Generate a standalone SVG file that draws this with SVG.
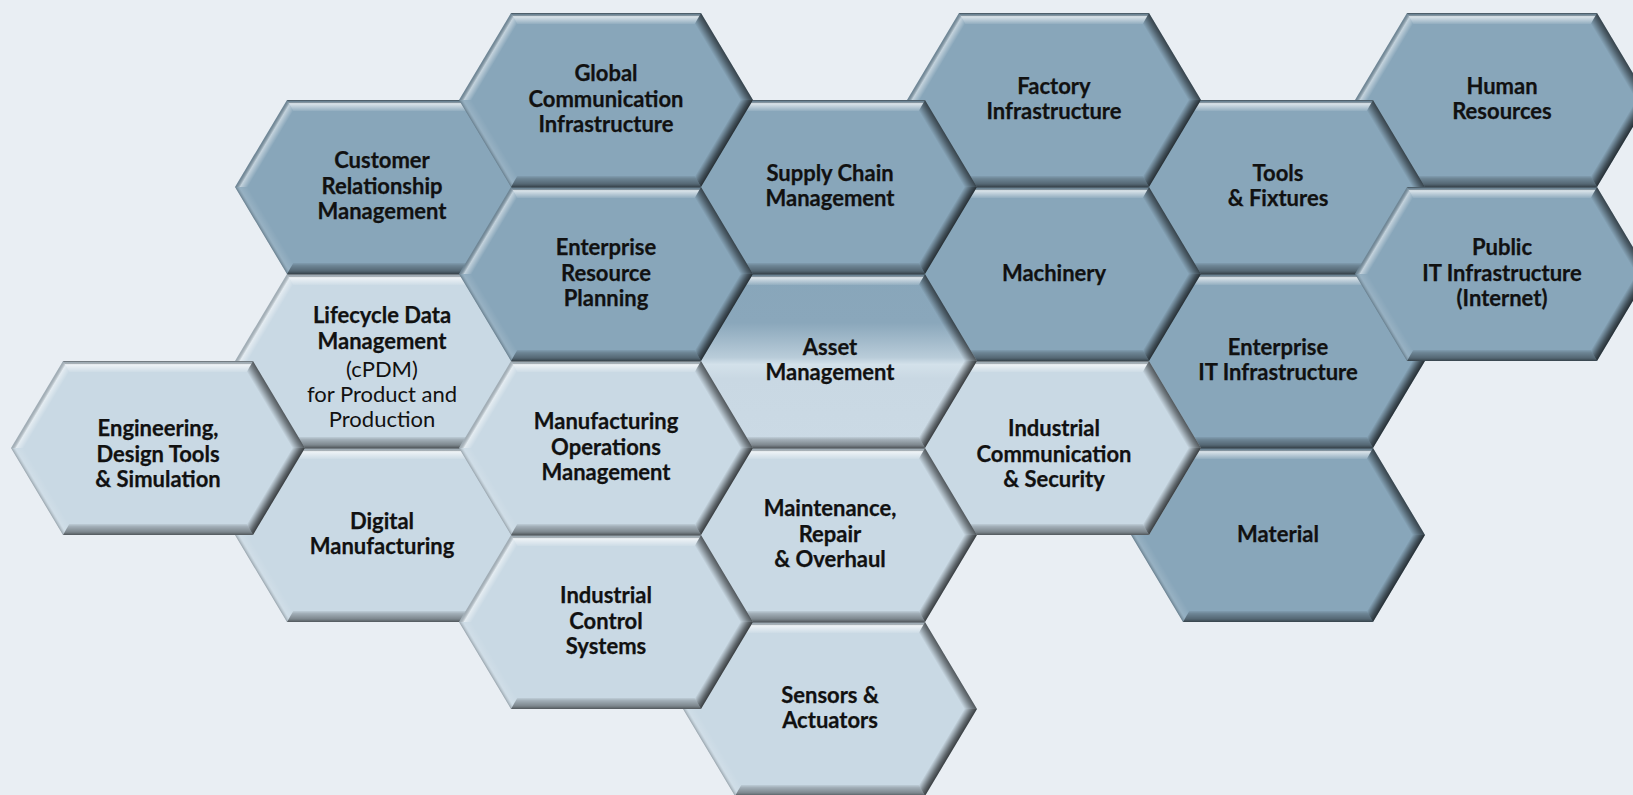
<svg xmlns="http://www.w3.org/2000/svg" xmlns:xlink="http://www.w3.org/1999/xlink" width="1633" height="795" viewBox="0 0 1633 795">
<style>
.t{font-family:Lato,"Liberation Sans",sans-serif;font-size:22px;font-weight:bold;fill:#111;text-anchor:middle;stroke:#111;stroke-width:0.25px}
.r{font-weight:normal;stroke:none}
</style>
<defs>
<linearGradient id="gTop" gradientUnits="userSpaceOnUse" x1="0" y1="-87" x2="0" y2="-75">
<stop offset="0" stop-color="#000" stop-opacity="0.55"/>
<stop offset="0.12" stop-color="#000" stop-opacity="0.2"/>
<stop offset="0.3" stop-color="#fff" stop-opacity="0.7"/>
<stop offset="0.55" stop-color="#fff" stop-opacity="0.45"/>
<stop offset="1" stop-color="#fff" stop-opacity="0"/>
</linearGradient>
<linearGradient id="gBot" gradientUnits="userSpaceOnUse" x1="0" y1="87" x2="0" y2="75">
<stop offset="0" stop-color="#000" stop-opacity="0.6"/>
<stop offset="0.25" stop-color="#000" stop-opacity="0.38"/>
<stop offset="0.7" stop-color="#000" stop-opacity="0.2"/>
<stop offset="1" stop-color="#000" stop-opacity="0"/>
</linearGradient>
<linearGradient id="gUR" gradientUnits="userSpaceOnUse" x1="121" y1="-43.5" x2="111.56" y2="-37.86">
<stop offset="0" stop-color="#000" stop-opacity="0.6"/>
<stop offset="0.35" stop-color="#000" stop-opacity="0.42"/>
<stop offset="1" stop-color="#000" stop-opacity="0"/>
</linearGradient>
<linearGradient id="gLR" gradientUnits="userSpaceOnUse" x1="121" y1="43.5" x2="111.56" y2="37.86">
<stop offset="0" stop-color="#000" stop-opacity="0.72"/>
<stop offset="0.35" stop-color="#000" stop-opacity="0.52"/>
<stop offset="1" stop-color="#000" stop-opacity="0"/>
</linearGradient>
<linearGradient id="gLL" gradientUnits="userSpaceOnUse" x1="-121" y1="43.5" x2="-111.56" y2="37.86">
<stop offset="0" stop-color="#000" stop-opacity="0.25"/>
<stop offset="0.35" stop-color="#fff" stop-opacity="0.12"/>
<stop offset="1" stop-color="#fff" stop-opacity="0"/>
</linearGradient>
<linearGradient id="gUL" gradientUnits="userSpaceOnUse" x1="-121" y1="-43.5" x2="-111.56" y2="-37.86">
<stop offset="0" stop-color="#000" stop-opacity="0.2"/>
<stop offset="0.4" stop-color="#fff" stop-opacity="0.5"/>
<stop offset="1" stop-color="#fff" stop-opacity="0"/>
</linearGradient>
<linearGradient id="assetFill" gradientUnits="userSpaceOnUse" x1="0" y1="-87" x2="0" y2="87">
<stop offset="0" stop-color="#88a6ba"/>
<stop offset="0.28" stop-color="#8aa7bb"/>
<stop offset="0.48" stop-color="#b9ccd9"/>
<stop offset="0.52" stop-color="#d3e1ea"/>
<stop offset="0.6" stop-color="#c9d8e3"/>
<stop offset="1" stop-color="#cbdae5"/>
</linearGradient>
<g id="bevel">
<polygon points="-95,-87 95,-87 88.76,-76 -88.76,-76" fill="url(#gTop)"/>
<polygon points="95,-87 147,0 134.19,0 88.76,-76" fill="url(#gUR)"/>
<polygon points="147,0 95,87 88.76,76 134.19,0" fill="url(#gLR)"/>
<polygon points="95,87 -95,87 -88.76,76 88.76,76" fill="url(#gBot)"/>
<polygon points="-95,87 -147,0 -134.19,0 -88.76,76" fill="url(#gLL)"/>
<polygon points="-147,0 -95,-87 -88.76,-76 -134.19,0" fill="url(#gUL)"/>
</g>
<g id="hexDark"><polygon points="-147,0 -95,-87 95,-87 147,0 95,87 -95,87" fill="#88a6ba"/><use href="#bevel"/></g>
<g id="hexLight"><polygon points="-147,0 -95,-87 95,-87 147,0 95,87 -95,87" fill="#c9d9e4"/><use href="#bevel"/></g>
<g id="hexAsset"><polygon points="-147,0 -95,-87 95,-87 147,0 95,87 -95,87" fill="url(#assetFill)"/><use href="#bevel"/></g>
</defs>
<rect width="1633" height="795" fill="#e9eef3"/>

<g id="node-crm" transform="translate(382,187)"><use href="#hexDark"/>
<text class="t"><tspan x="0" y="-19.3">Customer</tspan><tspan x="0" y="6.5">Relationship</tspan><tspan x="0" y="32.3">Management</tspan></text></g>
<g id="node-lifecycle" transform="translate(382,361)"><use href="#hexLight"/>
<text class="t"><tspan x="0" y="-38.4">Lifecycle Data</tspan><tspan x="0" y="-12.4">Management</tspan><tspan x="0" y="15.5" class="r">(cPDM)</tspan><tspan x="0" y="41" class="r">for Product and</tspan><tspan x="0" y="65.5" class="r">Production</tspan></text></g>
<g id="node-digital" transform="translate(382,535)"><use href="#hexLight"/>
<text class="t"><tspan x="0" y="-6.4">Digital</tspan><tspan x="0" y="19.4">Manufacturing</tspan></text></g>

<g id="node-hr" transform="translate(1502,100)"><use href="#hexDark"/>
<text class="t"><tspan x="0" y="-6.4">Human</tspan><tspan x="0" y="19.4">Resources</tspan></text></g>

<g id="node-tools" transform="translate(1278,187)"><use href="#hexDark"/>
<text class="t"><tspan x="0" y="-6.4">Tools</tspan><tspan x="0" y="19.4">&amp; Fixtures</tspan></text></g>
<g id="node-enterprise-it" transform="translate(1278,361)"><use href="#hexDark"/>
<text class="t"><tspan x="0" y="-6.4">Enterprise</tspan><tspan x="0" y="19.4">IT Infrastructure</tspan></text></g>
<g id="node-material" transform="translate(1278,535)"><use href="#hexDark"/>
<text class="t"><tspan x="0" y="6.5">Material</tspan></text></g>

<g id="node-public-it" transform="translate(1502,274)"><use href="#hexDark"/>
<text class="t"><tspan x="0" y="-19.3">Public</tspan><tspan x="0" y="6.5">IT Infrastructure</tspan><tspan x="0" y="32.3">(Internet)</tspan></text></g>

<g id="node-factory" transform="translate(1054,100)"><use href="#hexDark"/>
<text class="t"><tspan x="0" y="-6.4">Factory</tspan><tspan x="0" y="19.4">Infrastructure</tspan></text></g>
<g id="node-machinery" transform="translate(1054,274)"><use href="#hexDark"/>
<text class="t"><tspan x="0" y="6.5">Machinery</tspan></text></g>
<g id="node-ics-security" transform="translate(1054,448)"><use href="#hexLight"/>
<text class="t"><tspan x="0" y="-12.3">Industrial</tspan><tspan x="0" y="13.5">Communication</tspan><tspan x="0" y="39.3">&amp; Security</tspan></text></g>

<g id="node-scm" transform="translate(830,187)"><use href="#hexDark"/>
<text class="t"><tspan x="0" y="-6.4">Supply Chain</tspan><tspan x="0" y="19.4">Management</tspan></text></g>
<g id="node-asset" transform="translate(830,361)"><use href="#hexAsset"/>
<text class="t"><tspan x="0" y="-6.4">Asset</tspan><tspan x="0" y="19.4">Management</tspan></text></g>
<g id="node-mro" transform="translate(830,535)"><use href="#hexLight"/>
<text class="t"><tspan x="0" y="-19.3">Maintenance,</tspan><tspan x="0" y="6.5">Repair</tspan><tspan x="0" y="32.3">&amp; Overhaul</tspan></text></g>
<g id="node-sensors" transform="translate(830,709)"><use href="#hexLight"/>
<text class="t"><tspan x="0" y="-6.4">Sensors &amp;</tspan><tspan x="0" y="19.4">Actuators</tspan></text></g>

<g id="node-global" transform="translate(606,100)"><use href="#hexDark"/>
<text class="t"><tspan x="0" y="-19.3">Global</tspan><tspan x="0" y="6.5">Communication</tspan><tspan x="0" y="32.3">Infrastructure</tspan></text></g>
<g id="node-erp" transform="translate(606,274)"><use href="#hexDark"/>
<text class="t"><tspan x="0" y="-19.3">Enterprise</tspan><tspan x="0" y="6.5">Resource</tspan><tspan x="0" y="32.3">Planning</tspan></text></g>
<g id="node-mom" transform="translate(606,448)"><use href="#hexLight"/>
<text class="t"><tspan x="0" y="-19.3">Manufacturing</tspan><tspan x="0" y="6.5">Operations</tspan><tspan x="0" y="32.3">Management</tspan></text></g>
<g id="node-ics" transform="translate(606,622)"><use href="#hexLight"/>
<text class="t"><tspan x="0" y="-19.3">Industrial</tspan><tspan x="0" y="6.5">Control</tspan><tspan x="0" y="32.3">Systems</tspan></text></g>

<g id="node-engineering" transform="translate(158,448)"><use href="#hexLight"/>
<text class="t"><tspan x="0" y="-12.3">Engineering,</tspan><tspan x="0" y="13.5">Design Tools</tspan><tspan x="0" y="39.3">&amp; Simulation</tspan></text></g>

<g id="connectors"/>
</svg>
